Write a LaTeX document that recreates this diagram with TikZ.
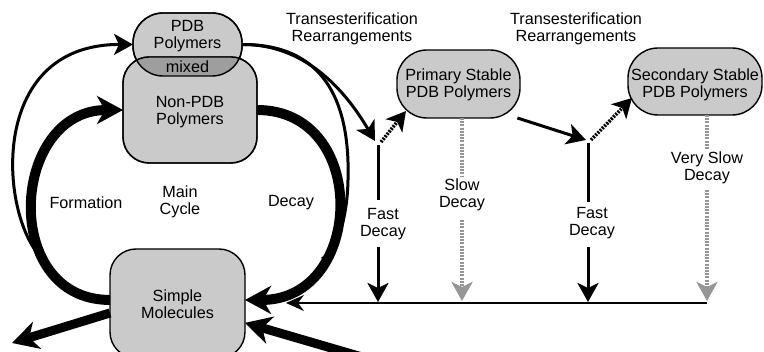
\documentclass[tikz,border=0pt]{standalone}
\usepackage{fontspec}
\setmainfont{Liberation Sans}
\usetikzlibrary{arrows.meta}

\definecolor{boxgray}{HTML}{CACACA}
\definecolor{mixgray}{HTML}{9E9E9E}
\definecolor{dotgray}{HTML}{969696}

\begin{document}
\begin{tikzpicture}[x=1pt,y=-1pt,
  txt/.style={font=\fontsize{16.2}{17.5}\selectfont, align=center, inner sep=0pt},
  box/.style={draw, line width=1.4pt, fill=boxgray, rectangle, inner sep=0pt, outer sep=0pt},
  bigtip/.style={-{Stealth[length=26pt,width=28pt,inset=8pt]}},
  smalltip/.style={-{Stealth[length=19pt,width=21pt,inset=5pt]}},
  thickarc/.style={line width=10pt, bigtip},
  thinarc/.style={line width=3pt},
  dotline/.style={line width=3.5pt, dash pattern=on 2pt off 1.2pt},
  greydots/.style={dotline, draw=dotgray}]

\useasboundingbox (0,0) rectangle (764,352);

% ---- boxes ----
\node[box, rounded corners=30pt, minimum width=109pt, minimum height=63pt] (pdb) at (187.5,44.5) {};
\node[box, rounded corners=26pt, minimum width=134pt, minimum height=106pt] (npdb) at (190,110) {};
\begin{scope}
  \clip[rounded corners=30pt] (pdb.south west) rectangle (pdb.north east);
  \fill[mixgray, rounded corners=26pt] (npdb.south west) rectangle (npdb.north east);
\end{scope}
\draw[line width=1.4pt, rounded corners=30pt] (pdb.south west) rectangle (pdb.north east);
\draw[line width=1.4pt, rounded corners=26pt] (npdb.south west) rectangle (npdb.north east);

\node[box, rounded corners=26pt, minimum width=135pt, minimum height=109pt] (simple) at (177.5,303.5) {};
\node[box, rounded corners=30pt, minimum width=123pt, minimum height=68pt] (prim) at (458.5,84) {};
\node[box, rounded corners=30pt, minimum width=134pt, minimum height=67pt] (sec) at (695,81.5) {};

% ---- box texts ----
\node[txt] (pdbtxt) at (187.5,36) {PDB\\Polymers};
\node[txt] (mixtxt) at (187.5,67) {mixed};
\node[txt] (npdbtxt) at (190,112) {Non-PDB\\Polymers};
\node[txt] (simpletxt) at (177.5,304) {Simple\\Molecules};
\node[txt] (primtxt) at (458.5,85) {Primary Stable\\PDB Polymers};
\node[txt] (sectxt) at (695,85) {Secondary Stable\\PDB Polymers};

% ---- free labels ----
\node[txt] (trans1) at (352,29) {Transesterification\\Rearrangements};
\node[txt] (trans2) at (576,29) {Transesterification\\Rearrangements};
\node[txt] (formation) at (86,203) {Formation};
\node[txt] (maincycle) at (180,202) {Main\\Cycle};
\node[txt] (decaylbl) at (291,203) {Decay};
\node[txt] (fast1) at (383,224) {Fast\\Decay};
\node[txt] (slow) at (462,195) {Slow\\Decay};
\node[txt] (fast2) at (592,223) {Fast\\Decay};
\node[txt] (vslow) at (707,168) {Very Slow\\Decay};

% ---- helper points ----
\coordinate (j1) at (378,145);
\coordinate (t1) at (375,141);
\coordinate (d1) at (381,142);
\coordinate (p1) at (406,111);
\coordinate (j2) at (588,143);
\coordinate (t2) at (586,140);
\coordinate (d2) at (591,140);
\coordinate (s2) at (632,98);
\coordinate (f1a) at (378,200);
\coordinate (f1b) at (378,247);
\coordinate (f1c) at (378,302);
\coordinate (f2a) at (588,202);
\coordinate (f2b) at (588,247);
\coordinate (f2c) at (588,302);
\coordinate (sl0) at (462,118);
\coordinate (sl1) at (462,176);
\coordinate (sl2) at (462,220);
\coordinate (sl3) at (462,301);
\coordinate (vs0) at (707,115);
\coordinate (vs1) at (707,150);
\coordinate (vs2) at (707,190);
\coordinate (vs3) at (707,301);
\coordinate (hr) at (707,303);
\coordinate (hl) at (286,303);
\coordinate (dmerge) at (322,259);
\coordinate (fmerge) at (43,259);
\coordinate (outend) at (12,343);
\coordinate (instart) at (362,357);

% ---- main cycle ----
\draw[thinarc, smalltip] (fmerge) .. controls (0,220) and (-15,44) .. (pdb.west);
\draw[thickarc] (simple.177) .. controls (0,300) and (10,110) .. (npdb.west);
\draw[thinarc] (pdb.east) .. controls (330,44) and (350,110) .. (348,180)
  .. controls (347,225) and (335,250) .. (dmerge);
\draw[thickarc] (npdb.east) .. controls (370,110) and (365,300) .. (simple.3);
\draw[line width=9pt, bigtip] (simple.188) -- (outend);
\draw[line width=9pt, bigtip] (instart) -- (simple.-16);

% ---- transesterification paths ----
\draw[thinarc, smalltip] (pdb.east) .. controls (305,44) and (345,90) .. (t1);
\draw[dotline, smalltip] (d1) -- (p1);
\draw[thinarc, smalltip] (prim.-30) -- (t2);
\draw[dotline, smalltip] (d2) -- (s2);

% ---- decay arrows ----
\draw[thinarc] (j1) -- (f1a);
\draw[thinarc, smalltip] (f1b) -- (f1c);
\draw[thinarc] (j2) -- (f2a);
\draw[thinarc, smalltip] (f2b) -- (f2c);
\draw[greydots] (sl0) -- (sl1);
\draw[greydots, -{Stealth[length=19pt,width=21pt,inset=5pt,fill=dotgray]}] (sl2) -- (sl3);
\draw[greydots] (vs0) -- (vs1);
\draw[greydots, -{Stealth[length=19pt,width=21pt,inset=5pt,fill=dotgray]}] (vs2) -- (vs3);
\draw[line width=2pt, -{Stealth[length=18pt,width=16pt,inset=6pt]}] (hr) -- (hl);
\end{tikzpicture}
\end{document}
